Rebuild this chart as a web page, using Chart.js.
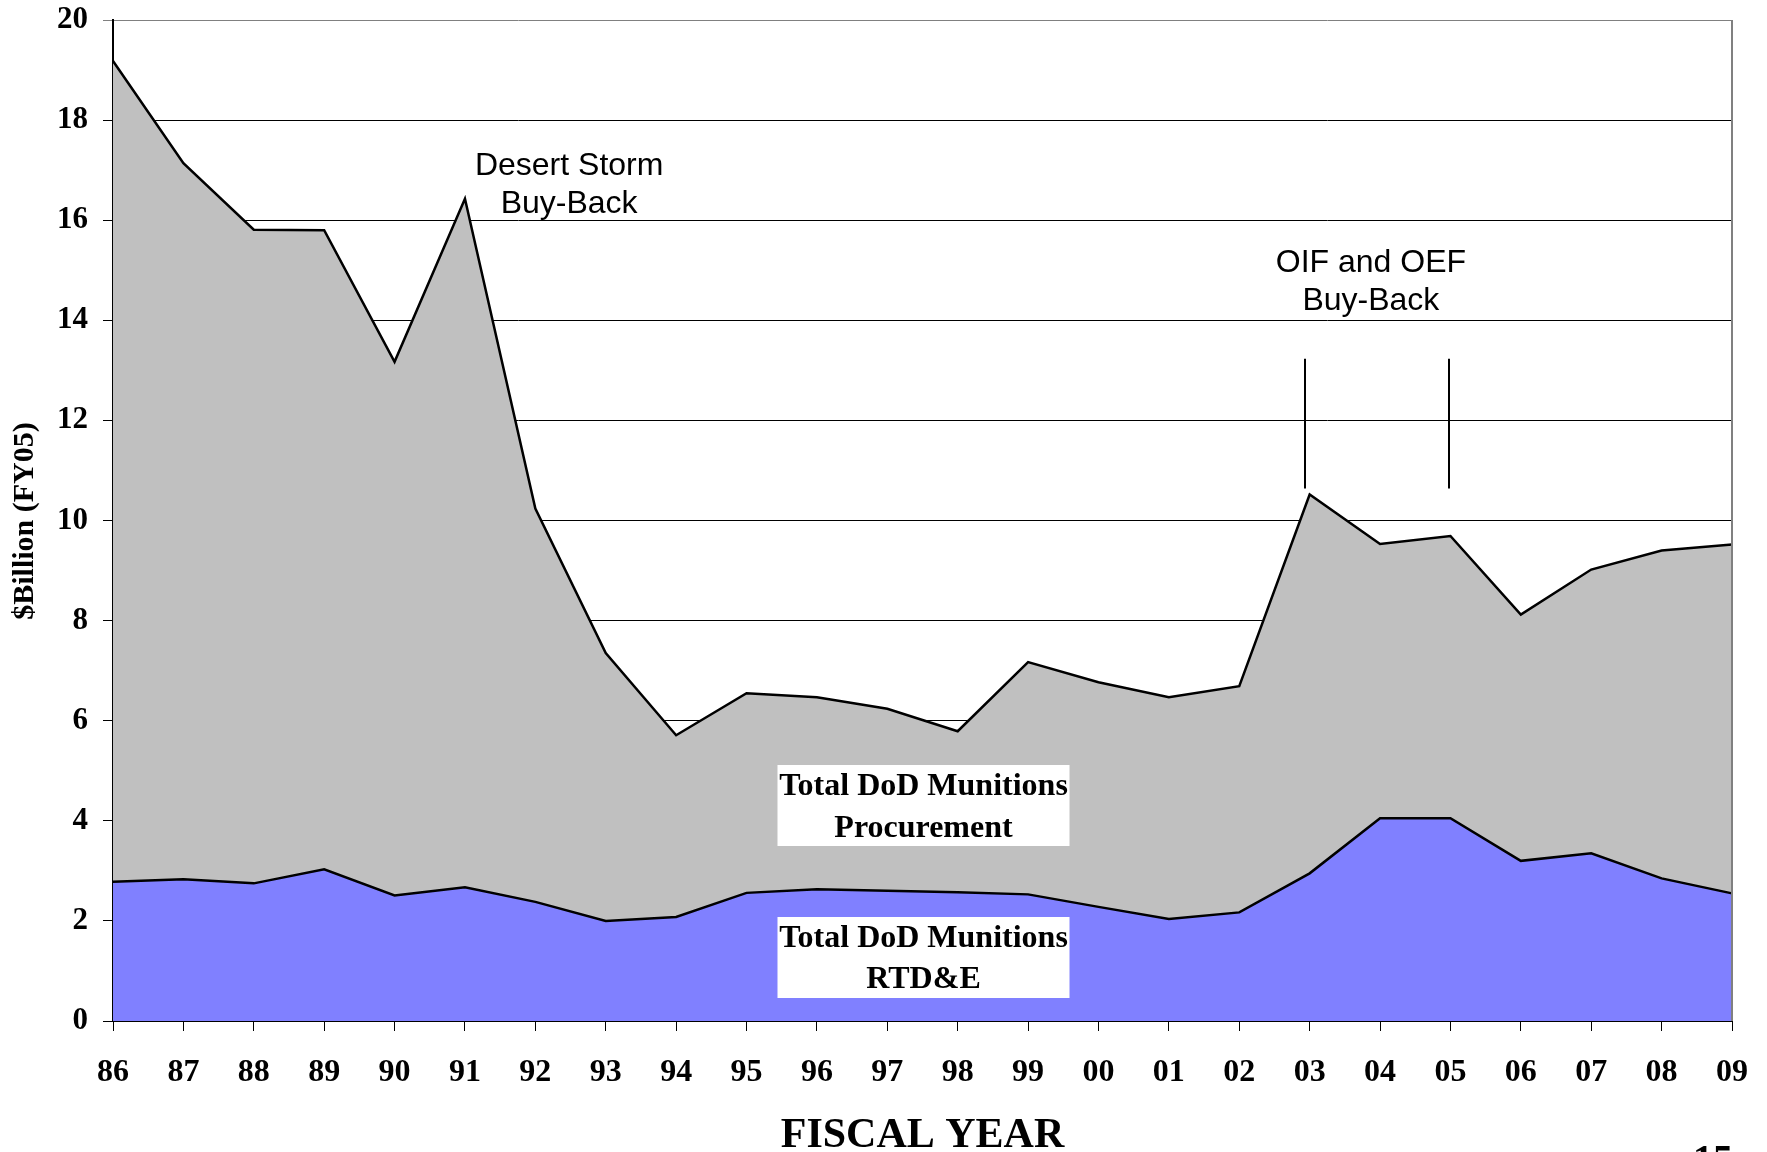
<!DOCTYPE html>
<html>
<head>
<meta charset="utf-8">
<title>DoD Munitions Funding</title>
<script src="https://cdn.jsdelivr.net/npm/chart.js@4.4.1/dist/chart.umd.min.js"></script>
<style>
  html, body { margin: 0; padding: 0; background: #fff; }
  #wrap { width: 1767px; height: 1152px; }
</style>
</head>
<body>
<div id="wrap"><canvas id="chart" width="1767" height="1152"></canvas></div>
<script>
// fiscal years on the x axis
const years = ['86', '87', '88', '89', '90', '91', '92', '93', '94', '95', '96', '97',
               '98', '99', '00', '01', '02', '03', '04', '05', '06', '07', '08', '09'];

// RTD&E (blue area), $B FY05
const rdteValues = [2.78, 2.83, 2.75, 3.03, 2.51, 2.67, 2.38, 2.00, 2.08, 2.56, 2.63, 2.60,
                    2.57, 2.53, 2.28, 2.04, 2.17, 2.95, 4.05, 4.05, 3.20, 3.35, 2.85, 2.55];

// top edge of the grey procurement area (RTD&E + procurement), $B FY05
const procurementTopValues = [19.18, 17.14, 15.81, 15.80, 13.17, 16.43, 10.24, 7.35, 5.71, 6.55, 6.47, 6.24,
                              5.79, 7.17, 6.77, 6.47, 6.69, 10.52, 9.53, 9.69, 8.12, 9.02, 9.40, 9.52];

const yMin = 0, yMax = 20, yStep = 2;

const SERIF = '"Liberation Serif", "Times New Roman", serif';
const SANS = '"Liberation Sans", Arial, sans-serif';

// texts drawn on top of the chart
const notesPlugin = {
  id: 'notes',
  afterDraw(chart) {
    const ctx = chart.ctx;
    const area = chart.chartArea;
    const x = chart.scales.x;
    const y = chart.scales.y;
    ctx.save();

    // right frame line
    ctx.strokeStyle = '#808080';
    ctx.lineWidth = 2;
    ctx.beginPath();
    ctx.moveTo(area.right, area.top);
    ctx.lineTo(area.right, area.bottom);
    ctx.stroke();

    // buy-back marker lines near 03 and 05
    ctx.strokeStyle = '#000';
    ctx.lineWidth = 2;
    [16.93, 18.98].forEach(pos => {
      const px = Math.round(x.getPixelForValue(pos));
      ctx.beginPath();
      ctx.moveTo(px, y.getPixelForValue(13.23));
      ctx.lineTo(px, y.getPixelForValue(10.64));
      ctx.stroke();
    });

    // annotations
    ctx.fillStyle = '#000';
    ctx.textAlign = 'center';
    ctx.textBaseline = 'alphabetic';
    ctx.font = '32px ' + SANS;
    const ds = x.getPixelForValue(6.48);
    ctx.fillText('Desert Storm', ds, 175);
    ctx.fillText('Buy-Back', ds, 213);
    const oif = x.getPixelForValue(17.87);
    ctx.fillText('OIF and OEF', oif, 272);
    ctx.fillText('Buy-Back', oif, 310);

    // series label boxes
    const cx = (area.left + area.right) / 2 + 1;
    const boxW = 292;
    ctx.fillStyle = '#fff';
    ctx.fillRect(cx - boxW / 2, 765, boxW, 81);
    ctx.fillRect(cx - boxW / 2, 917, boxW, 81);
    ctx.fillStyle = '#000';
    ctx.font = 'bold 32px ' + SERIF;
    ctx.fillText('Total DoD Munitions', cx, 795);
    ctx.fillText('Procurement', cx, 837);
    ctx.fillText('Total DoD Munitions', cx, 947);
    ctx.fillText('RTD&E', cx, 988);

    // axis titles
    ctx.font = 'bold 42px ' + SERIF;
    ctx.fillText('FISCAL YEAR', cx - 1, 1147);

    ctx.save();
    ctx.translate(25, 521);
    ctx.rotate(-Math.PI / 2);
    ctx.textBaseline = 'middle';
    ctx.font = 'bold 30px ' + SERIF;
    ctx.fillText('$Billion (FY05)', 0, 0);
    ctx.restore();

    // page number, cut by the page edge
    ctx.font = 'bold 40px ' + SERIF;
    ctx.fillText('15', 1713, 1172);

    ctx.restore();
  }
};

new Chart(document.getElementById('chart'), {
  type: 'line',
  data: {
    labels: years,
    datasets: [
      {
        label: 'Total DoD Munitions RTD&E',
        data: rdteValues,
        borderColor: '#000',
        borderWidth: 2.5,
        backgroundColor: '#8080FF',
        fill: 'origin',
        pointRadius: 0,
        tension: 0
      },
      {
        label: 'Total DoD Munitions Procurement',
        data: procurementTopValues,
        borderColor: '#000',
        borderWidth: 2.5,
        backgroundColor: '#C0C0C0',
        fill: 'origin',
        pointRadius: 0,
        tension: 0
      }
    ]
  },
  options: {
    responsive: false,
    animation: false,
    devicePixelRatio: 1,
    layout: { padding: { left: 0, top: 20, right: 35, bottom: 0 } },
    plugins: {
      legend: { display: false },
      tooltip: { enabled: false },
      title: { display: false }
    },
    scales: {
      x: {
        type: 'category',
        offset: false,
        grid: {
          drawOnChartArea: false,
          drawTicks: true,
          tickLength: 10,
          color: '#000',
          lineWidth: 1
        },
        border: { display: true, color: '#000', width: 2 },
        ticks: {
          color: '#000',
          font: { family: SERIF, size: 32, weight: 'bold' },
          padding: 23,
          maxRotation: 0,
          autoSkip: false
        },
        afterFit(scale) {
          scale.height = 131;
          scale.paddingLeft = 0;
          scale.paddingRight = 0;
        }
      },
      y: {
        min: yMin,
        max: yMax,
        grid: {
          drawTicks: true,
          tickLength: 10,
          lineWidth: 1,
          color: ctx => (ctx.tick && ctx.tick.value === yMax) ? '#808080' : '#000'
        },
        border: { display: true, color: '#000', width: 2 },
        ticks: {
          stepSize: yStep,
          color: '#000',
          font: { family: SERIF, size: 31, weight: 'bold' },
          padding: 15
        },
        afterFit(scale) {
          scale.width = 113;
          scale.paddingTop = 0;
          scale.paddingBottom = 0;
        }
      }
    }
  },
  plugins: [notesPlugin]
});
</script>
</body>
</html>
